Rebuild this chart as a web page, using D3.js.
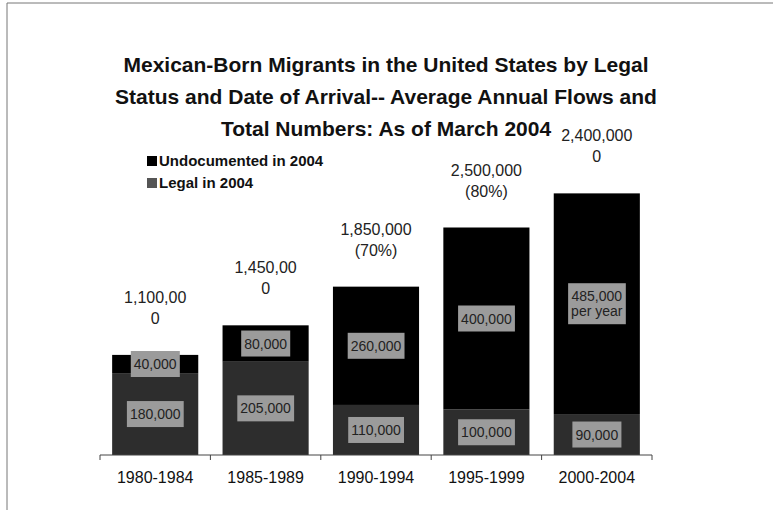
<!DOCTYPE html>
<html>
<head>
<meta charset="utf-8">
<script src="https://cdn.jsdelivr.net/npm/d3@7"></script>
<style>
  body { margin: 0; background: #fff; }
  svg { display: block; font-family: "Liberation Sans", Arial, sans-serif; }
</style>
</head>
<body>
<div id="chart"></div>
<script>
const categories = ["1980-1984", "1985-1989", "1990-1994", "1995-1999", "2000-2004"];
const legalFlow = [180000, 205000, 110000, 100000, 90000];
const undocFlow = [40000, 80000, 260000, 400000, 485000];
const legalLabels = ["180,000", "205,000", "110,000", "100,000", "90,000"];
const undocLabels = [["40,000"], ["80,000"], ["260,000"], ["400,000"], ["485,000", "per year"]];
const totalLabels = [
  ["1,100,00", "0"],
  ["1,450,00", "0"],
  ["1,850,000", "(70%)"],
  ["2,500,000", "(80%)"],
  ["2,400,000", "0"]
];
const seriesNames = ["Undocumented in 2004", "Legal in 2004"];
const titleLines = [
  "Mexican-Born Migrants in the United States by Legal",
  "Status and Date of Arrival-- Average Annual Flows and",
  "Total Numbers: As of March 2004"
];

const width = 773, height = 510;
const colUndoc = "#000", colLegal = "#2d2d2d", colBox = "#9b9b9b";

const svg = d3.select("#chart").append("svg")
  .attr("width", width)
  .attr("height", height);

// frame (only top and left edges show in the scan)
svg.append("path")
  .attr("d", `M7,${height} V3 H${width}`)
  .attr("fill", "none")
  .attr("stroke", "#777")
  .attr("stroke-width", 1);

// title
svg.append("g").selectAll("text")
  .data(titleLines)
  .join("text")
    .attr("x", 386)
    .attr("y", (d, i) => 72 + i * 32)
    .attr("text-anchor", "middle")
    .attr("font-size", 21)
    .attr("font-weight", "bold")
    .attr("fill", "#111")
    .text(d => d);

const x = d3.scaleBand()
  .domain(categories)
  .range([100, 652])
  .paddingInner(0.22)
  .paddingOuter(0.11);

const y = d3.scaleLinear()
  .domain([0, 600000])
  .range([455, 182]);

const rows = categories.map((c, i) => ({
  cat: c, legal: legalFlow[i], undoc: undocFlow[i],
  legalLabel: legalLabels[i], undocLabel: undocLabels[i], total: totalLabels[i]
}));

// stacked bars: legal at the bottom, undocumented on top
const bars = svg.append("g").selectAll("g")
  .data(rows)
  .join("g");

bars.append("rect")
  .attr("x", d => x(d.cat))
  .attr("y", d => y(d.legal))
  .attr("width", x.bandwidth())
  .attr("height", d => y(0) - y(d.legal))
  .attr("fill", colLegal);

bars.append("rect")
  .attr("x", d => x(d.cat))
  .attr("y", d => y(d.legal + d.undoc))
  .attr("width", x.bandwidth())
  .attr("height", d => y(d.legal) - y(d.legal + d.undoc))
  .attr("fill", colUndoc);

// boxed value labels centred in each segment
function boxLabel(g, lines, cx, cy) {
  const lh = 15;
  const t = g.append("text")
    .attr("text-anchor", "middle")
    .attr("font-size", 14)
    .attr("fill", "#222");
  lines.forEach((s, i) => {
    t.append("tspan")
      .attr("x", cx)
      .attr("y", cy + (i - (lines.length - 1) / 2) * lh + 5)
      .text(s);
  });
  const bb = t.node().getBBox();
  g.insert("rect", "text")
    .attr("x", bb.x - 3)
    .attr("y", bb.y - 5)
    .attr("width", bb.width + 6)
    .attr("height", bb.height + 10)
    .attr("fill", colBox);
}

bars.each(function(d) {
  const g = d3.select(this);
  const cx = x(d.cat) + x.bandwidth() / 2;
  boxLabel(g.append("g"), [d.legalLabel], cx, (y(0) + y(d.legal)) / 2);
  boxLabel(g.append("g"), d.undocLabel, cx, (y(d.legal) + y(d.legal + d.undoc)) / 2);
});

// totals above the bars
bars.append("text")
  .attr("text-anchor", "middle")
  .attr("font-size", 16)
  .attr("fill", "#222")
  .selectAll("tspan")
  .data(d => d.total.map((s, i) => ({ s, i, d })))
  .join("tspan")
    .attr("x", t => x(t.d.cat) + x.bandwidth() / 2)
    .attr("y", t => y(t.d.legal + t.d.undoc) - 31 + (t.i - 1) * 21)
    .text(t => t.s);

// category axis with ticks between the categories
const step = x.step();
const axis = svg.append("g")
  .attr("transform", `translate(0,${y(0)})`)
  .call(d3.axisBottom(x).tickSize(0).tickPadding(17))
  .call(g => g.select(".domain").attr("stroke", "#444").attr("d", `M${x.range()[0]},0H${x.range()[1]}`));

axis.selectAll(".tick text")
  .attr("font-size", 16)
  .attr("font-family", "Liberation Sans, Arial, sans-serif")
  .attr("fill", "#111");

axis.append("g").selectAll("line")
  .data(categories.concat([null]))
  .join("line")
    .attr("x1", (d, i) => x.range()[0] + i * step)
    .attr("x2", (d, i) => x.range()[0] + i * step)
    .attr("y1", 0)
    .attr("y2", 5)
    .attr("stroke", "#444");

// legend
const legend = svg.append("g").selectAll("g")
  .data(seriesNames)
  .join("g")
    .attr("transform", (d, i) => `translate(147,${161 + i * 22})`);

legend.append("rect")
  .attr("x", 0)
  .attr("y", -5)
  .attr("width", 10)
  .attr("height", 10)
  .attr("fill", (d, i) => i === 0 ? colUndoc : "#555");

legend.append("text")
  .attr("x", 12)
  .attr("y", 5)
  .attr("font-size", 15)
  .attr("font-weight", "bold")
  .attr("fill", "#111")
  .text(d => d);
</script>
</body>
</html>
